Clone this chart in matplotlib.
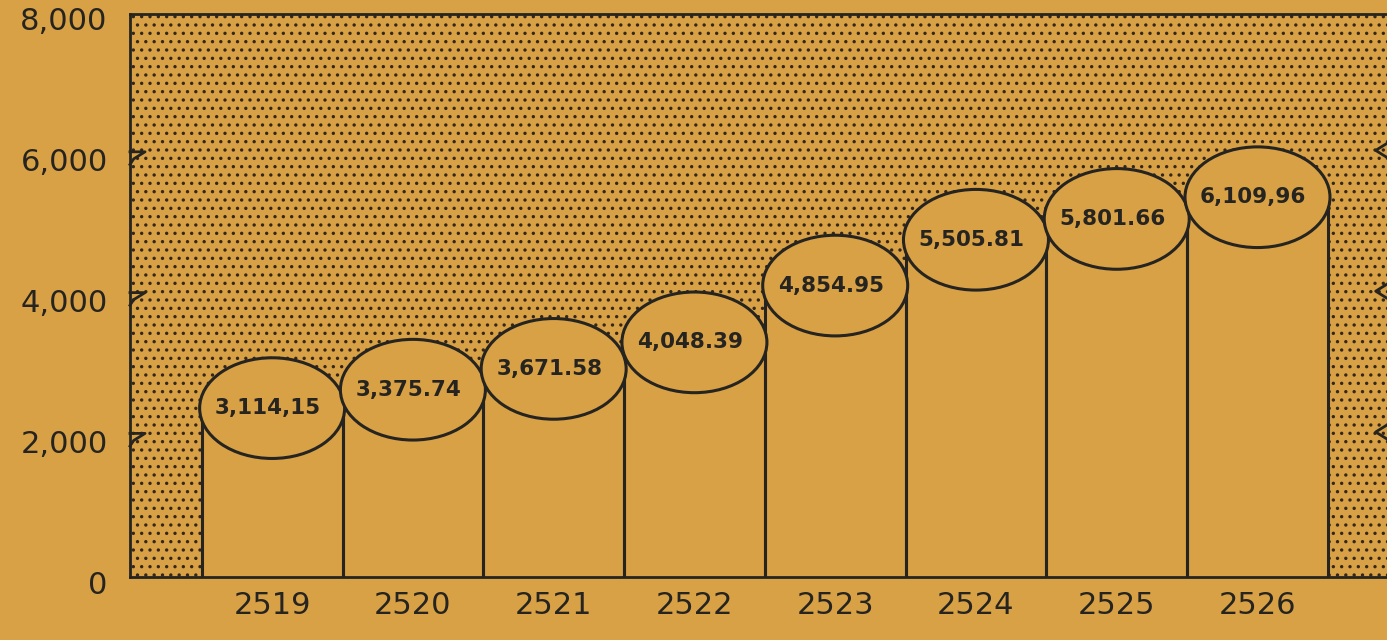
import matplotlib.pyplot as plt
from matplotlib.patches import Ellipse, Rectangle
from matplotlib.ticker import FuncFormatter
from matplotlib.transforms import ScaledTranslation

years = ["2519", "2520", "2521", "2522", "2523", "2524", "2525", "2526"]
values = [3114.15, 3375.74, 3671.58, 4048.39, 4854.95, 5505.81, 5801.66, 6109.96]
labels = ["3,114,15", "3,375.74", "3,671.58", "4,048.39",
          "4,854.95", "5,505.81", "5,801.66", "6,109,96"]
yticks = [0, 2000, 4000, 6000, 8000]

bg = "#D9A145"
ink = "#262420"
dots = "#33261a"

plt.rcParams['font.family'] = ['DejaVu Sans']
plt.rcParams['hatch.linewidth'] = 1.2

fig = plt.figure(figsize=(13.87, 6.4), dpi=100, facecolor=bg)
ax = fig.add_axes([0.0937, 0.0984, 0.9063, 0.880])
ax.set_facecolor(bg)

# stippled background of the plot area
ax.add_patch(Rectangle((0, 0), 1, 1, transform=ax.transAxes, facecolor=bg,
                       edgecolor=dots, hatch='..', lw=0, zorder=0))

half = 715  # half height of the cylinder tops, in data units
for i, v in enumerate(values):
    c = v - half
    ax.bar(i, c, width=1.0, color=bg, edgecolor='none', zorder=2)
    ax.vlines([i - 0.5, i + 0.5], 0, c, color=ink, lw=2.2, zorder=3)
    ax.add_patch(Ellipse((i, c), 1.03, 2 * half, facecolor=bg,
                         edgecolor=ink, lw=2.2, zorder=4 + i))
    ax.text(i - 0.03, c, labels[i], ha='center', va='center', fontsize=15.5,
            fontweight='bold', color=ink, zorder=20)

ax.set_xlim(-1.01, 7.92)
ax.set_ylim(0, 8000)
ax.set_xticks(range(len(years)))
ax.set_xticklabels(years)
ax.set_yticks(yticks)
ax.yaxis.set_major_formatter(FuncFormatter(lambda v, p: "0" if v == 0 else f"{int(v):,}"))
ax.tick_params(axis='both', length=0, labelsize=22, colors=ink)
ax.tick_params(axis='y', pad=16)
ax.tick_params(axis='x', pad=10)
for lab in ax.get_yticklabels():
    lab.set_transform(lab.get_transform() + ScaledTranslation(0, -5 / 100, fig.dpi_scale_trans))

for s in ['left', 'top', 'bottom']:
    ax.spines[s].set_color(ink)
    ax.spines[s].set_linewidth(2)
ax.spines['right'].set_visible(False)

# little notched ticks on the left spine
for y in yticks[1:4]:
    ax.plot([0, 0.012, 0.003, 0.0], [y + 40, y + 40, y - 60, y - 140],
            transform=ax.get_yaxis_transform(), color=ink, lw=2,
            clip_on=False, zorder=30)
    # partly visible marks at the right edge
    ax.plot([1.0, 0.991, 1.0], [y + 160, y + 60, y - 40],
            transform=ax.get_yaxis_transform(), color=ink, lw=2,
            clip_on=False, zorder=30)

fig.savefig("out.png", dpi=100, facecolor=bg)
